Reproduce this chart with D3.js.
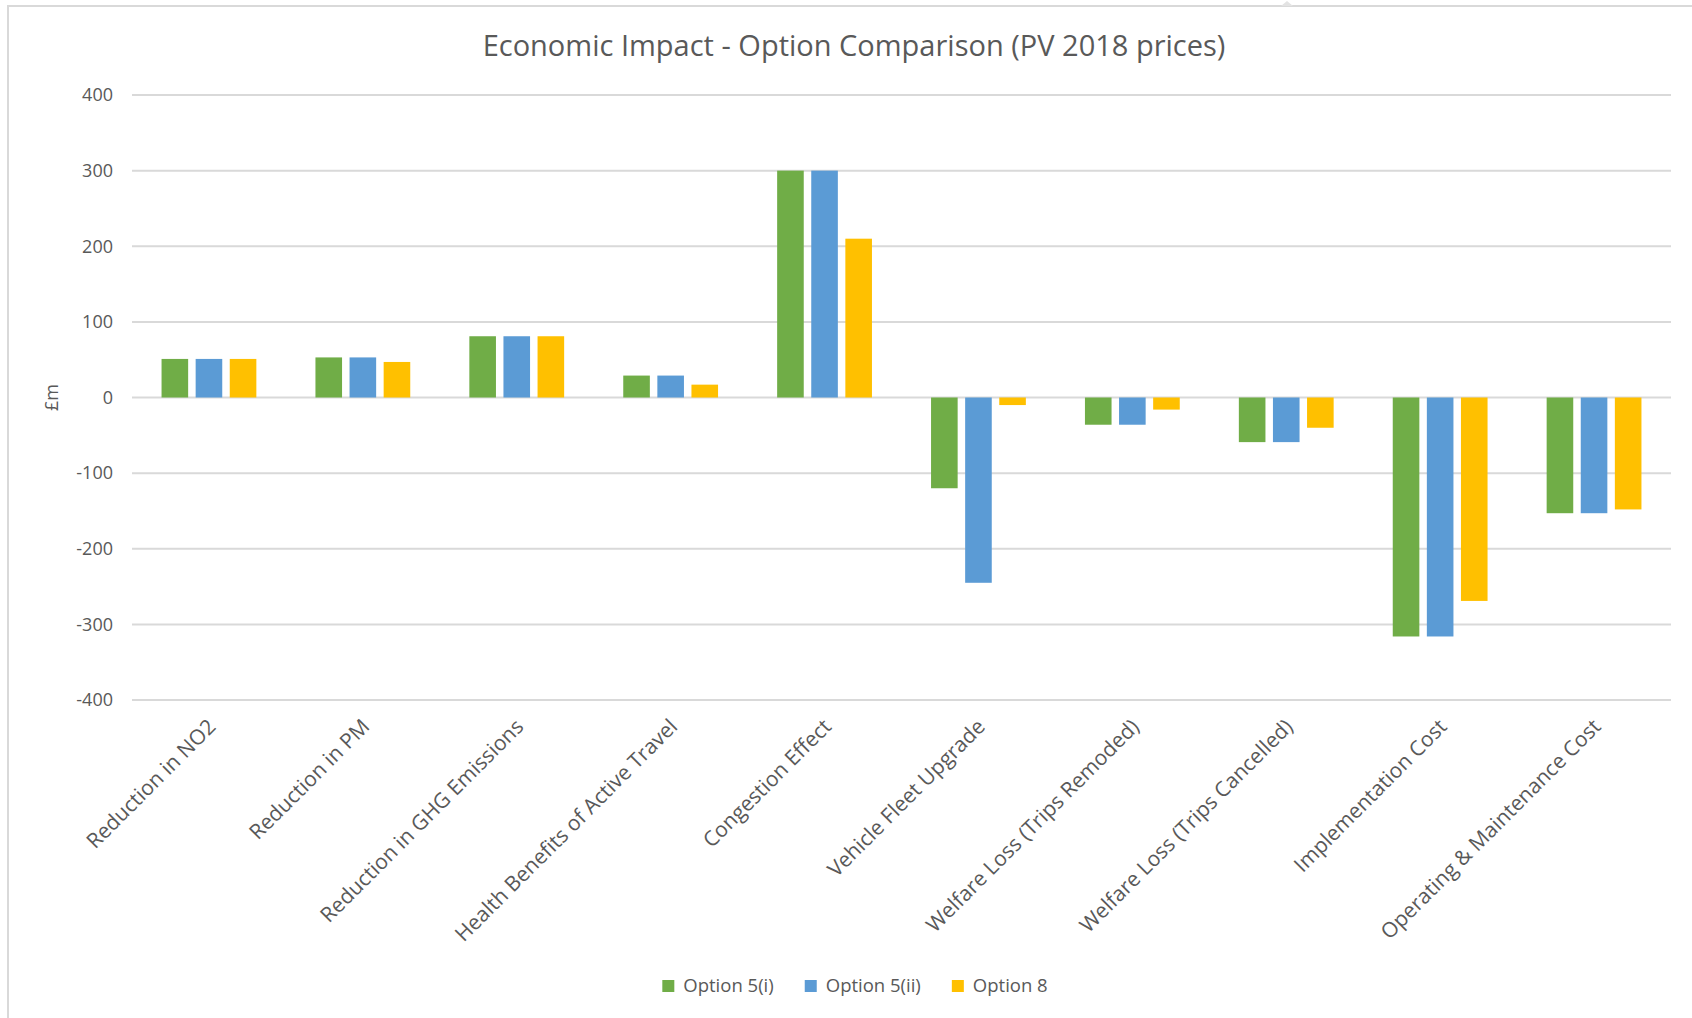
<!DOCTYPE html>
<html>
<head>
<meta charset="utf-8">
<script src="https://cdn.jsdelivr.net/npm/d3@7"></script>
<style>
  html, body { margin: 0; padding: 0; background: #fff; }
  svg { display: block; }
  text { font-family: "Open Sans", "Lato", sans-serif; fill: #595959; }
</style>
</head>
<body>
<svg id="chart" width="1692" height="1018"></svg>
<script>
// Economic impact by benefit / cost line, in £m (present value, 2018 prices)
const categories = [
  "Reduction in NO2",
  "Reduction in PM",
  "Reduction in GHG Emissions",
  "Health Benefits of Active Travel",
  "Congestion Effect",
  "Vehicle Fleet Upgrade",
  "Welfare Loss (Trips Remoded)",
  "Welfare Loss (Trips Cancelled)",
  "Implementation Cost",
  "Operating & Maintenance Cost"
];
const seriesNames = ["Option 5(i)", "Option 5(ii)", "Option 8"];
const option5i  = [51, 53, 81, 29, 300, -120, -36, -59, -316, -153];
const option5ii = [51, 53, 81, 29, 300, -245, -36, -59, -316, -153];
const option8   = [51, 47, 81, 17, 210,  -10, -16, -40, -269, -148];
const seriesColors = ["#70ad47", "#5b9bd5", "#ffc000"];
const yTicks = [400, 300, 200, 100, 0, -100, -200, -300, -400];
const titleText = "Economic Impact - Option Comparison (PV 2018 prices)";
const yAxisTitle = "£m";

const seriesValues = [option5i, option5ii, option8];
const rows = categories.map((c, i) => ({
  category: c,
  values: seriesNames.map((s, k) => ({ series: s, value: seriesValues[k][i], color: seriesColors[k] }))
}));

const svg = d3.select("#chart");
const W = 1692, H = 1018;
const plot = { left: 132, right: 1671, top: 95, bottom: 700 };

// chart frame (left and top edges only)
svg.append("path")
  .attr("d", `M8,${H} L8,6 L${W},6`)
  .attr("fill", "none")
  .attr("stroke", "#d9d9d9")
  .attr("stroke-width", 2);
svg.append("path")
  .attr("d", "M1281,6 L1287,1 L1293,6 Z")
  .attr("fill", "#e3e3e3");

const x = d3.scaleBand().domain(categories).range([plot.left, plot.right]).paddingInner(0).paddingOuter(0);
const groupPad = x.bandwidth() * 0.192;
const xInner = d3.scaleBand().domain(seriesNames)
  .range([groupPad, x.bandwidth() - groupPad]).paddingInner(0.22).paddingOuter(0);
const y = d3.scaleLinear().domain([-400, 400]).range([plot.bottom, plot.top]);

// gridlines
svg.append("g")
  .selectAll("line")
  .data(yTicks)
  .join("line")
  .attr("x1", plot.left).attr("x2", plot.right)
  .attr("y1", d => y(d)).attr("y2", d => y(d))
  .attr("stroke", "#d9d9d9")
  .attr("stroke-width", 2);

// y axis labels (plain hyphen for negatives)
const yAxis = d3.axisLeft(y).tickValues(yTicks).tickSize(0).tickPadding(0).tickFormat(d => String(d));
const yg = svg.append("g").attr("transform", `translate(113,0)`).call(yAxis);
yg.select(".domain").remove();
yg.selectAll("text")
  .attr("font-size", 18)
  .attr("font-family", "'Open Sans', sans-serif")
  .attr("fill", "#595959");

svg.append("text")
  .attr("transform", `translate(58,${y(0)}) rotate(-90)`)
  .attr("text-anchor", "middle")
  .attr("font-size", 18)
  .text(yAxisTitle);

// bars
const groups = svg.append("g")
  .selectAll("g")
  .data(rows)
  .join("g")
  .attr("transform", d => `translate(${x(d.category)},0)`);

groups.selectAll("rect")
  .data(d => d.values)
  .join("rect")
  .attr("x", d => xInner(d.series))
  .attr("width", xInner.bandwidth())
  .attr("y", d => y(Math.max(0, d.value)))
  .attr("height", d => Math.abs(y(d.value) - y(0)))
  .attr("fill", d => d.color);

// category labels, rotated
const xAxis = d3.axisBottom(x).tickSize(0).tickPadding(0);
const xg = svg.append("g").attr("transform", `translate(0,${plot.bottom})`).call(xAxis);
xg.select(".domain").remove();
xg.selectAll("text")
  .attr("font-size", 21)
  .attr("font-family", "'Open Sans', sans-serif")
  .attr("fill", "#595959")
  .attr("text-anchor", "end")
  .attr("dy", null)
  .attr("y", 0)
  .attr("transform", "translate(8,28) rotate(-45)");

// title
svg.append("text")
  .attr("x", 854)
  .attr("y", 56)
  .attr("text-anchor", "middle")
  .attr("font-size", 29)
  .text(titleText);

// legend
const legend = svg.append("g").attr("transform", "translate(0,986)");
const items = legend.selectAll("g").data(seriesNames).join("g");
items.append("rect")
  .attr("width", 12).attr("height", 12)
  .attr("y", -6)
  .attr("fill", (d, i) => seriesColors[i]);
items.append("text")
  .attr("x", 21)
  .attr("dy", "0.35em")
  .attr("font-size", 18.5)
  .text(d => d);
let cursor = 0;
const widths = [];
items.each(function () {
  const w = 21 + d3.select(this).select("text").node().getComputedTextLength();
  widths.push(w);
});
const gap = 31;
const total = d3.sum(widths) + gap * (widths.length - 1);
cursor = 855 - total / 2;
items.attr("transform", (d, i) => {
  const t = `translate(${cursor},0)`;
  cursor += widths[i] + gap;
  return t;
});
</script>
</body>
</html>
